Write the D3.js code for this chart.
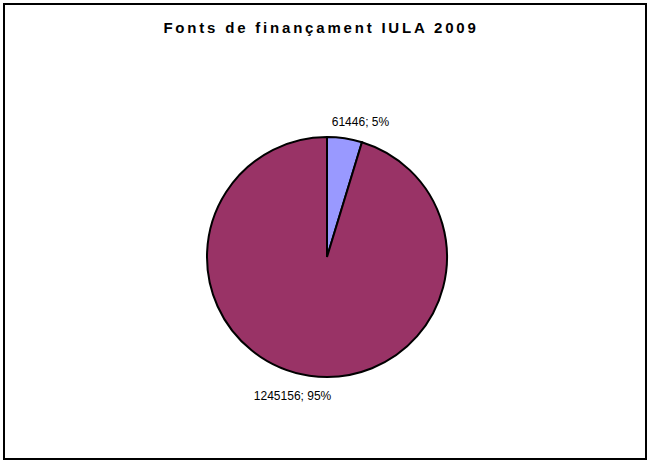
<!DOCTYPE html>
<html>
<head>
<meta charset="utf-8">
<script src="https://cdn.jsdelivr.net/npm/d3@7"></script>
<style>
  html, body { margin: 0; padding: 0; background: #fff; }
  svg { display: block; }
</style>
</head>
<body>
<svg id="chart" width="648" height="462"></svg>
<script>
// Data
const categories = ["Font A", "Font B"];
const values = [61446, 1245156];
const percentLabels = ["5%", "95%"];
const title = "Fonts de finançament IULA 2009";

const colors = ["#9999FF", "#993366"];

const W = 648, H = 462;
const cx = 327, cy = 257, radius = 120;

const svg = d3.select("#chart");

// Frame
svg.append("rect")
  .attr("x", 4).attr("y", 4)
  .attr("width", 642).attr("height", 455)
  .attr("fill", "#fff")
  .attr("stroke", "#000")
  .attr("stroke-width", 2);

// Title
svg.append("text")
  .attr("x", 321).attr("y", 33)
  .attr("text-anchor", "middle")
  .attr("font-family", "Liberation Sans, Arial, sans-serif")
  .attr("font-weight", "bold")
  .attr("font-size", 15)
  .attr("letter-spacing", "2.8px")
  .attr("fill", "#000")
  .text(title);

const data = categories.map((c, i) => ({ cat: c, value: values[i], pct: percentLabels[i] }));

const pie = d3.pie().sort(null).value(d => d.value).startAngle(0).endAngle(2 * Math.PI);
const arcs = pie(data);

const arc = d3.arc().innerRadius(0).outerRadius(radius);
const labelArc = d3.arc().innerRadius(139).outerRadius(139);

const g = svg.append("g").attr("transform", `translate(${cx},${cy})`);

g.selectAll("path.slice")
  .data(arcs)
  .enter().append("path")
  .attr("class", "slice")
  .attr("d", arc)
  .attr("fill", (d, i) => colors[i])
  .attr("stroke", "#000")
  .attr("stroke-width", 2)
  .attr("stroke-linejoin", "miter");

const labelShift = [13, -14];
const labelDy = [6, 6];

g.selectAll("text.lbl")
  .data(arcs)
  .enter().append("text")
  .attr("class", "lbl")
  .attr("x", (d, i) => labelArc.centroid(d)[0] + labelShift[i])
  .attr("y", (d, i) => labelArc.centroid(d)[1] + labelDy[i])
  .attr("text-anchor", "middle")
  .attr("font-family", "Liberation Sans, Arial, sans-serif")
  .attr("font-size", 12)
  .attr("fill", "#000")
  .text(d => `${d.data.value}; ${d.data.pct}`);
</script>
</body>
</html>
